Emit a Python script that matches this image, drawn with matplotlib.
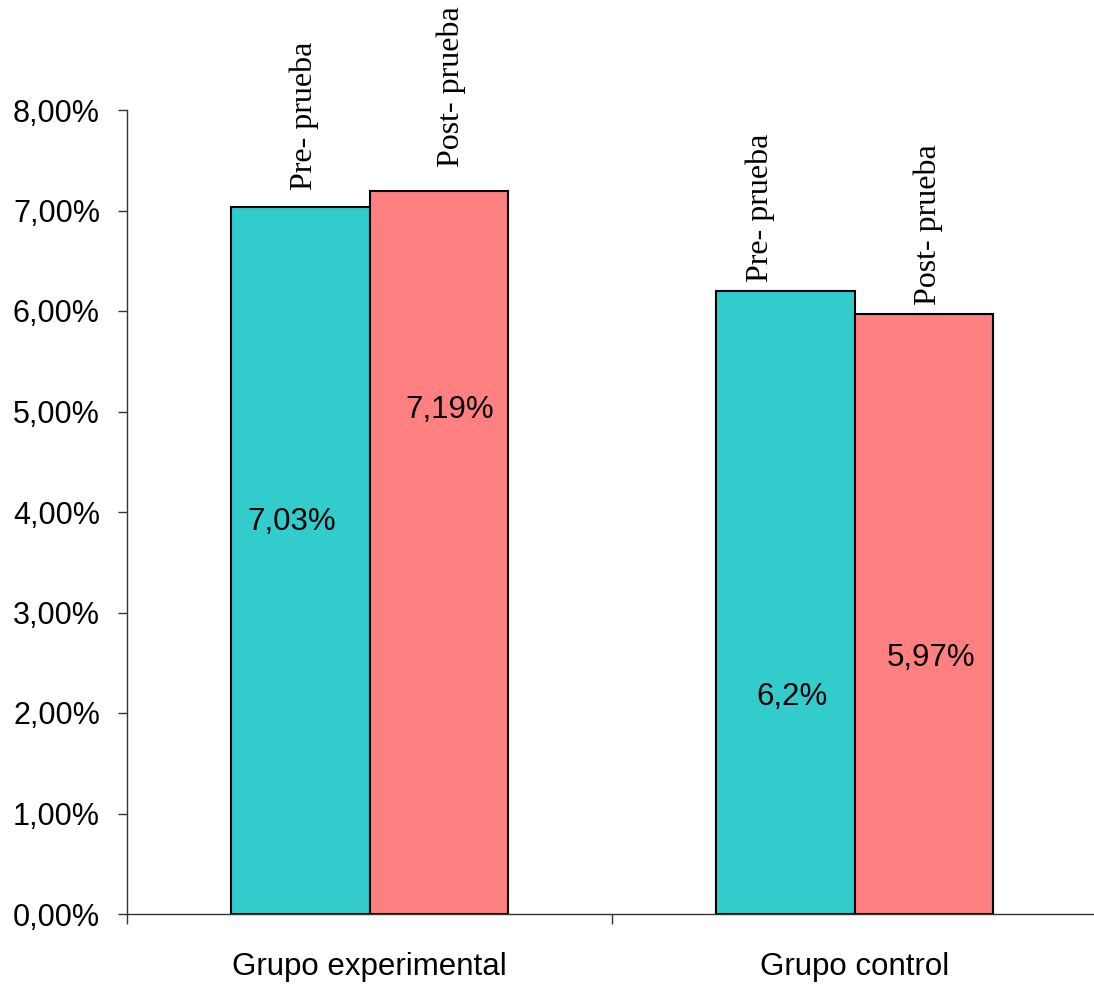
import matplotlib
matplotlib.use("Agg")
import matplotlib.pyplot as plt
import numpy as np

# Data
groups = ["Grupo experimental", "Grupo control"]
series_names = ["Pre- prueba", "Post- prueba"]
pre_values = [7.03, 6.20]
post_values = [7.19, 5.97]
value_texts_pre = ["7,03%", "6,2%"]
value_texts_post = ["7,19%", "5,97%"]
yticks = [0, 1, 2, 3, 4, 5, 6, 7, 8]
ytick_labels = ["0,00%", "1,00%", "2,00%", "3,00%", "4,00%", "5,00%", "6,00%", "7,00%", "8,00%"]

teal = "#33CCCC"
pink = "#FF8080"

fig = plt.figure(figsize=(10.94, 9.84), dpi=100)
ax = fig.add_axes([127 / 1094, 1 - 914 / 984, 970 / 1094, 804 / 984])

x = np.arange(len(groups))
width = 0.285
ax.bar(x - width / 2, pre_values, width, color=teal, edgecolor="black", linewidth=1.5, zorder=3)
ax.bar(x + width / 2, post_values, width, color=pink, edgecolor="black", linewidth=1.5, zorder=3)

ax.set_xlim(-0.5, 1.5)
ax.set_ylim(0, 8)

sans = ["Liberation Sans", "DejaVu Sans"]
serif = ["Liberation Serif", "DejaVu Serif"]

ax.set_yticks(yticks)
ax.set_yticklabels(ytick_labels, fontsize=22, family=sans)
ax.tick_params(axis="y", direction="out", length=6.5, width=1, pad=13, color="#333333")

ax.set_xticks(x)
ax.set_xticklabels(groups, fontsize=22.5, family=sans)
ax.tick_params(axis="x", which="major", length=0, pad=27)
ax.set_xticks([-0.5, 0.5, 1.5], minor=True)
ax.tick_params(axis="x", which="minor", direction="out", length=7.5, width=1, color="#333333")

for side in ("top", "right"):
    ax.spines[side].set_visible(False)
for side in ("left", "bottom"):
    ax.spines[side].set_linewidth(1)
    ax.spines[side].set_color("#333333")

# Series names above each bar (rotated)
name_pos = [
    (-0.135, 7.20, series_names[0]),
    (0.168, 7.43, series_names[1]),
    (0.805, 6.29, series_names[0]),
    (1.152, 6.06, series_names[1]),
]
for xp, yp, txt in name_pos:
    ax.text(xp, yp, txt, rotation=90, ha="center", va="bottom",
            fontsize=23, family=serif, zorder=4)

# Value labels inside bars
val_pos = [
    (-0.160, 3.90, value_texts_pre[0]),
    (0.166, 5.01, value_texts_post[0]),
    (0.871, 2.16, value_texts_pre[1]),
    (1.158, 2.55, value_texts_post[1]),
]
for xp, yp, txt in val_pos:
    ax.text(xp, yp, txt, ha="center", va="center", fontsize=22.5, family=sans, zorder=4)

fig.savefig("out.png", dpi=100)
